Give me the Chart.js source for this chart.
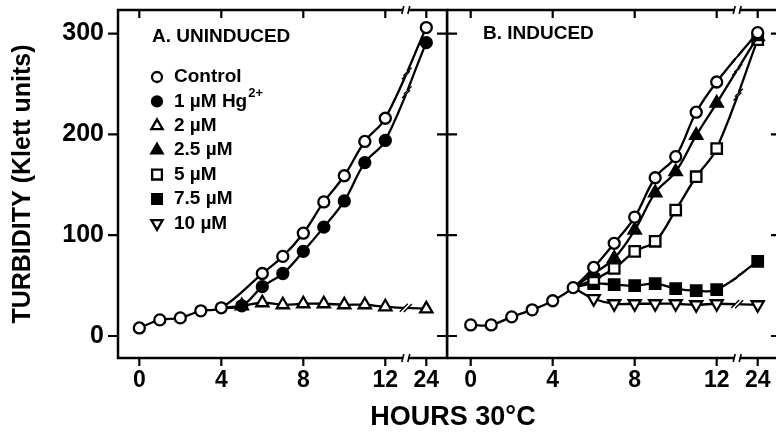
<!DOCTYPE html>
<html>
<head>
<meta charset="utf-8">
<script src="https://cdn.jsdelivr.net/npm/chart.js@4.4.1/dist/chart.umd.min.js"></script>
<style>
  html, body { margin: 0; padding: 0; background: #fff; overflow: hidden; }
  #wrap { position: relative; width: 776px; height: 444px; overflow: hidden; }
  #chartA { position: absolute; left: 0; top: 0; }
  #chartB { position: absolute; left: 447px; top: 0; }
  #xTitle {
    position: absolute; left: 353px; top: 403px; width: 200px; text-align: center;
    font: bold 27px "Liberation Sans", Arial, sans-serif; line-height: 1; color: #000;
  }
</style>
</head>
<body>
<div id="wrap">
  <canvas id="chartA" width="449" height="444"></canvas>
  <canvas id="chartB" width="334" height="444"></canvas>
  <div id="xTitle">HOURS 30°C</div>
</div>
<script>
// axis ticks
const tickHours = [0, 4, 8, 12, 24];
const yTickValues = [0, 100, 200, 300];

// series (legend order)
const seriesLabels = ['Control', '1 µM Hg', '2 µM', '2.5 µM', '5 µM', '7.5 µM', '10 µM'];
const seriesSup = ['', '2+', '', '', '', '', ''];

// A. uninduced
const hoursAControl = [0, 1, 2, 3, 4, 6, 7, 8, 9, 10, 11, 12, 24];
const uninducedControl = [8, 16, 18, 25, 28, 62, 79, 102, 133, 159, 193, 216, 306];
const hoursABranch = [4, 5, 6, 7, 8, 9, 10, 11, 12, 24];
const uninduced1uM = [28, 30, 49, 62, 84, 108, 134, 172, 194, 291];
const uninduced2uM = [28, 30, 33, 31, 32, 32, 31, 31, 29, 27];

// B. induced
const hoursBControl = [0, 1, 2, 3, 4, 5, 6, 7, 8, 9, 10, 11, 12, 24];
const inducedControl = [11, 11, 19, 26, 35, 48, 68, 92, 118, 157, 178, 222, 252, 301];
const hoursBBranch = [5, 6, 7, 8, 9, 10, 11, 12, 24];
const induced2_5uM = [48, 62, 77, 105, 142, 163, 199, 231, 297];
const induced5uM = [48, 56, 67, 84, 94, 125, 158, 186, 294];
const induced7_5uM = [48, 52, 51, 50, 52, 47, 45, 46, 74];
const induced10uM = [48, 37, 32, 32, 32, 32, 31, 32, 31];

// 24 h is drawn after an axis break, two hour-widths past 12
const BREAK_POS = 14;
function pos(h) { return h > 12 ? BREAK_POS : h; }

const markerStyles = [
  { pointStyle: 'circle', fill: false, rot: 0 },
  { pointStyle: 'circle', fill: true, rot: 0 },
  { pointStyle: 'triangle', fill: false, rot: 0 },
  { pointStyle: 'triangle', fill: true, rot: 0 },
  { pointStyle: 'rect', fill: false, rot: 0 },
  { pointStyle: 'rect', fill: true, rot: 0 },
  { pointStyle: 'triangle', fill: false, rot: 180 }
];
const markerRadius = { circle: 5.5, triangle: 7, rect: 7.4 };
const LW = 2.3;
const tickFontX = { family: '"Liberation Sans", Arial, sans-serif', size: 23, weight: 'bold' };
const tickFontY = { family: '"Liberation Sans", Arial, sans-serif', size: 25, weight: 'bold' };

function makeSet(idx, hours, values, hideFirst) {
  const m = markerStyles[idx];
  const r = markerRadius[m.pointStyle];
  return {
    label: seriesLabels[idx],
    data: hours.map((h, i) => ({ x: pos(h), y: values[i] })),
    borderColor: '#000',
    borderWidth: LW,
    pointStyle: m.pointStyle,
    pointRotation: m.rot,
    pointRadius: hours.map((h, i) => (hideFirst && i === 0) ? 0 : r),
    pointBackgroundColor: m.fill ? '#000' : '#fff',
    pointBorderColor: '#000',
    pointBorderWidth: LW,
    tension: 0.4,
    fill: false
  };
}

// frame, tick marks, axis breaks, line breaks, panel title
const framePlugin = {
  id: 'frame',
  afterDatasetsDraw(chart, args, opts) {
    const { ctx, chartArea: a, scales } = chart;
    const sx = scales.x, sy = scales.y;
    ctx.save();
    ctx.strokeStyle = '#000';
    ctx.lineCap = 'butt';

    // line breaks between 12 and 24
    chart.data.datasets.forEach((ds, di) => {
      const pts = chart.getDatasetMeta(di).data;
      const n = pts.length;
      if (n < 2) return;
      const p = pts[n - 2], q = pts[n - 1];
      const bx = (p.x + 3 * p.cp2x + 3 * q.cp1x + q.x) / 8;
      const by = (p.y + 3 * p.cp2y + 3 * q.cp1y + q.y) / 8;
      let dx = q.x - p.x, dy = q.y - p.y;
      const len = Math.hypot(dx, dy); dx /= len; dy /= len;
      ctx.strokeStyle = '#fff'; ctx.lineWidth = LW + 2;
      ctx.beginPath(); ctx.moveTo(bx - dx * 2, by - dy * 2); ctx.lineTo(bx + dx * 2, by + dy * 2); ctx.stroke();
      ctx.strokeStyle = '#000'; ctx.lineWidth = 1.4;
      [-2, 2].forEach(o => {
        const cx = bx + dx * o, cy = by + dy * o;
        ctx.beginPath();
        ctx.moveTo(cx - 4, cy + 4); ctx.lineTo(cx + 4, cy - 4);
        ctx.stroke();
      });
    });

    // frame
    ctx.strokeStyle = '#000'; ctx.lineWidth = 2.5;
    ctx.strokeRect(a.left, a.top, a.right - a.left, a.bottom - a.top);

    // tick marks
    ctx.lineWidth = 2.2;
    ctx.beginPath();
    tickHours.forEach(h => {
      const x = sx.getPixelForValue(pos(h));
      ctx.moveTo(x, a.bottom); ctx.lineTo(x, a.bottom + 8);
      ctx.moveTo(x, a.top); ctx.lineTo(x, a.top + 8);
    });
    yTickValues.forEach(v => {
      const y = sy.getPixelForValue(v);
      if (opts.leftOut) { ctx.moveTo(a.left - 10, y); ctx.lineTo(a.left, y); }
      else { ctx.moveTo(a.left, y); ctx.lineTo(a.left + 10, y); }
      ctx.moveTo(a.right - 10, y); ctx.lineTo(a.right, y);
    });
    ctx.stroke();

    // axis break at 13
    const xb = sx.getPixelForValue((12 + BREAK_POS) / 2);
    [a.bottom, a.top].forEach(yy => {
      ctx.fillStyle = '#fff';
      ctx.fillRect(xb - 2.5, yy - 3, 5, 6);
      ctx.lineWidth = 1.6;
      ctx.beginPath();
      ctx.moveTo(xb - 4, yy + 4); ctx.lineTo(xb - 2, yy - 4);
      ctx.moveTo(xb + 2, yy + 4); ctx.lineTo(xb + 4, yy - 4);
      ctx.stroke();
    });

    // panel title
    ctx.fillStyle = '#000';
    ctx.font = 'bold 19px "Liberation Sans", Arial, sans-serif';
    ctx.textBaseline = 'middle';
    ctx.textAlign = 'left';
    ctx.fillText(opts.title, a.left + opts.titleDx, a.top + opts.titleDy);
    ctx.restore();
  }
};

const legendPlugin = {
  id: 'markerLegend',
  afterDraw(chart) {
    const { ctx, chartArea: a } = chart;
    ctx.save();
    seriesLabels.forEach((lab, i) => {
      const x = a.left + 39;
      const y = a.top + 67 + i * 24.4;
      const m = markerStyles[i];
      ctx.fillStyle = m.fill ? '#000' : '#fff';
      ctx.strokeStyle = '#000';
      ctx.lineWidth = LW;
      Chart.helpers.drawPoint(ctx, {
        pointStyle: m.pointStyle, rotation: m.rot,
        radius: markerRadius[m.pointStyle] - 0.5, borderWidth: LW
      }, x, y);
      ctx.fillStyle = '#000';
      ctx.textBaseline = 'middle';
      ctx.textAlign = 'left';
      ctx.font = 'bold 19px "Liberation Sans", Arial, sans-serif';
      ctx.fillText(lab, x + 17, y);
      if (seriesSup[i]) {
        const w = ctx.measureText(lab).width;
        ctx.font = 'bold 13px "Liberation Sans", Arial, sans-serif';
        ctx.fillText(seriesSup[i], x + 18 + w, y - 8);
      }
    });
    ctx.restore();
  }
};

function xScale(min, max, show) {
  return {
    type: 'linear', min: min, max: max,
    afterBuildTicks: s => { s.ticks = tickHours.map(h => ({ value: pos(h) })); },
    ticks: {
      display: show, autoSkip: false, maxRotation: 0, padding: 9, color: '#000', font: tickFontX,
      callback: v => (v === BREAK_POS ? '24' : String(v))
    },
    grid: { display: false, drawTicks: false },
    border: { display: false },
    afterFit: s => { s.height = 86; s.paddingLeft = 0; s.paddingRight = 0; }
  };
}

function yScale(show) {
  return {
    min: -21.8, max: 323.4, display: show ? true : false,
    afterBuildTicks: s => { s.ticks = yTickValues.map(v => ({ value: v })); },
    ticks: { padding: 14, color: '#000', font: tickFontY },
    grid: { display: false, drawTicks: false },
    border: { display: false },
    title: {
      display: show, text: 'TURBIDITY (Klett units)', color: '#000',
      font: { family: '"Liberation Sans", Arial, sans-serif', size: 25, weight: 'bold' },
      padding: { top: 8, bottom: 0 }
    },
    afterFit: s => { if (show) s.width = 118; s.paddingTop = 0; s.paddingBottom = 0; }
  };
}

const baseOpts = {
  responsive: false,
  animation: false,
  events: [],
  plugins: { legend: { display: false }, tooltip: { enabled: false } }
};

new Chart(document.getElementById('chartA'), {
  type: 'line',
  data: {
    datasets: [
      makeSet(0, hoursAControl, uninducedControl, false),
      makeSet(1, hoursABranch, uninduced1uM, true),
      makeSet(2, hoursABranch, uninduced2uM, true)
    ]
  },
  options: Object.assign({}, baseOpts, {
    layout: { autoPadding: false, padding: { top: 10, right: 2, left: 0, bottom: 0 } },
    scales: { x: xScale(-1.04, 15.01, true), y: yScale(true) },
    plugins: Object.assign({}, baseOpts.plugins, {
      frame: { leftOut: true, title: 'A. UNINDUCED', titleDx: 34, titleDy: 27 }
    })
  }),
  plugins: [framePlugin, legendPlugin]
});

new Chart(document.getElementById('chartB'), {
  type: 'line',
  data: {
    datasets: [
      makeSet(0, hoursBControl, inducedControl, false),
      makeSet(3, hoursBBranch, induced2_5uM, true),
      makeSet(4, hoursBBranch, induced5uM, true),
      makeSet(5, hoursBBranch, induced7_5uM, true),
      makeSet(6, hoursBBranch, induced10uM, true)
    ]
  },
  options: Object.assign({}, baseOpts, {
    layout: { autoPadding: false, padding: { top: 10, right: 0, left: 0, bottom: 0 } },
    scales: { x: xScale(-1.156, 15.137, true), y: yScale(false) },
    plugins: Object.assign({}, baseOpts.plugins, {
      frame: { leftOut: false, title: 'B. INDUCED', titleDx: 36, titleDy: 24 }
    })
  }),
  plugins: [framePlugin]
});
</script>
</body>
</html>
